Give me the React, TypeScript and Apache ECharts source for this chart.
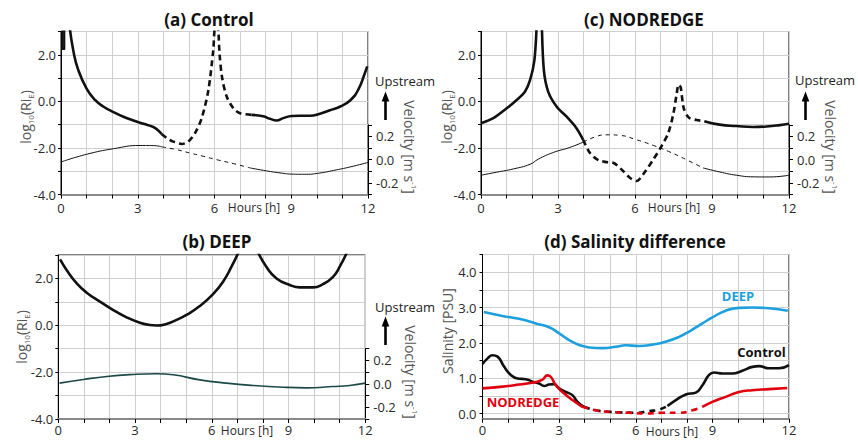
import { useEffect, useRef } from "react";
import * as echarts from "echarts";

type P = [number, number][];

// tick labels
const hourLabels = [0, 3, 6, 9, 12];
const riLabels = [-4, -2, 0, 2];
const velLabels = [-0.2, 0, 0.2];
const salTicks = [0, 0.5, 1, 1.5, 2, 2.5, 3, 3.5, 4, 4.5];
const salLabels = [0, 1, 2, 3, 4];

// (a) Control — log10(Ri_E)
const aRiSpike: P = [[0.05, 3.3], [0.05, 2.25], [0.13, 2.25], [0.13, 3.3]];
const aRiSolid1: P = [[0.33, 3.3], [0.48, 2.18], [0.68, 1.33], [1.0, 0.55], [1.33, 0.06], [1.65, -0.22], [2.05, -0.46], [2.44, -0.66], [2.83, -0.82], [3.22, -0.96], [3.61, -1.1], [3.8, -1.25], [3.93, -1.4]];
const aRiDash: P = [[3.93, -1.4], [4.13, -1.57], [4.39, -1.73], [4.72, -1.83], [4.98, -1.72], [5.24, -1.36], [5.5, -0.72], [5.76, 0.48], [5.95, 2.18], [6.03, 3.2], [6.12, 3.2], [6.2, 2.0], [6.3, 1.0], [6.48, 0.2], [6.74, -0.3], [7.0, -0.51], [7.45, -0.58]];
const aRiSolid2: P = [[7.45, -0.58], [7.9, -0.64], [8.17, -0.75], [8.43, -0.82], [8.69, -0.72], [9.02, -0.63], [9.34, -0.62], [9.73, -0.62], [10.12, -0.53], [10.51, -0.38], [10.9, -0.23], [11.3, 0.04], [11.62, 0.5], [11.88, 1.22], [11.97, 1.5]];
// (a) Control — velocity
const aVelSolid1: P = [[0, -0.02], [1, 0.046], [2.05, 0.094], [3.09, 0.122], [3.61, 0.121], [3.95, 0.11]];
const aVelDash: P = [[3.95, 0.11], [4.52, 0.086], [5.04, 0.057], [5.56, 0.029], [6.08, 0.0], [6.74, -0.034], [7.39, -0.071]];
const aVelSolid2: P = [[7.39, -0.071], [8.04, -0.097], [8.56, -0.114], [9.08, -0.125], [9.6, -0.126], [10.12, -0.115], [10.65, -0.093], [11.3, -0.063], [12, -0.024]];

// (c) NODREDGE — log10(Ri_E)
const cRiSolid1: P = [[0, -0.94], [0.48, -0.72], [1.0, -0.3], [1.39, 0.06], [1.71, 0.41], [1.91, 0.91], [2.08, 1.76], [2.17, 3.3]];
const cRiSolid1b: P = [[2.37, 3.3], [2.45, 1.33], [2.62, 0.41], [2.95, -0.23], [3.33, -0.65], [3.72, -1.15], [3.98, -1.65]];
const cRiDash: P = [[3.98, -1.65], [4.24, -2.21], [4.57, -2.52], [4.89, -2.61], [5.15, -2.64], [5.47, -2.92], [5.8, -3.28], [6.06, -3.42], [6.32, -3.13], [6.71, -2.5], [7.03, -1.93], [7.3, -1.35], [7.5, -0.5], [7.62, 0.3], [7.7, 0.72], [7.78, 0.6], [7.9, -0.3], [8.1, -0.7], [8.4, -0.8], [8.7, -0.85]];
const cRiSolid2: P = [[8.7, -0.85], [9.3, -1.0], [9.95, -1.06], [10.6, -1.1], [11.12, -1.08], [11.64, -1.02], [12, -0.96]];
// (c) NODREDGE — velocity
const cVelSolid1: P = [[0, -0.134], [0.61, -0.108], [1.26, -0.08], [1.91, -0.04], [2.23, 0.004], [2.82, 0.062], [3.46, 0.105], [3.98, 0.151]];
const cVelDash: P = [[3.98, 0.151], [4.5, 0.2], [4.89, 0.214], [5.41, 0.209], [6.06, 0.171], [6.71, 0.123], [7.36, 0.066], [8.0, 0.0], [8.65, -0.071]];
const cVelSolid2: P = [[8.65, -0.071], [9.3, -0.106], [9.95, -0.134], [10.6, -0.148], [11.25, -0.149], [12, -0.134]];

// (b) DEEP
const bRi1: P = [[0.07, 2.81], [0.33, 2.35], [0.72, 1.79], [1.11, 1.39], [1.63, 1.01], [2.15, 0.65], [2.67, 0.34], [3.19, 0.11], [3.58, 0.01], [3.84, -0.01], [4.23, 0.06], [4.62, 0.23], [5.01, 0.44], [5.53, 0.82], [6.05, 1.33], [6.44, 1.86], [6.77, 2.5], [7.08, 3.2]];
const bRi2: P = [[7.77, 3.2], [8.13, 2.5], [8.53, 2.0], [9.05, 1.72], [9.44, 1.62], [9.96, 1.62], [10.35, 1.76], [10.74, 2.07], [11.0, 2.5], [11.32, 3.2]];
const bVel: P = [[0.05, 0.006], [0.98, 0.037], [1.89, 0.063], [2.93, 0.08], [3.84, 0.086], [4.49, 0.077], [5.53, 0.034], [6.57, 0.006], [7.61, -0.014], [8.79, -0.029], [9.7, -0.034], [10.74, -0.023], [11.39, -0.014], [12, 0.006]];

// (d) Salinity difference
const dDeep: P = [[0.05, 2.87], [0.78, 2.76], [1.43, 2.68], [2.09, 2.55], [2.61, 2.44], [3.0, 2.27], [3.39, 2.08], [3.78, 1.94], [4.17, 1.87], [4.7, 1.85], [5.22, 1.89], [5.61, 1.93], [6.13, 1.91], [6.65, 1.95], [7.17, 2.03], [7.7, 2.17], [8.09, 2.32], [8.61, 2.55], [9.0, 2.72], [9.52, 2.91], [10.04, 2.99], [10.57, 3.0], [11.22, 2.98], [11.95, 2.91]];
const dControl1: P = [[0, 1.4], [0.2, 1.56], [0.39, 1.65], [0.59, 1.61], [0.85, 1.32], [1.11, 1.09], [1.37, 0.99], [1.7, 0.97], [1.96, 0.9], [2.22, 0.85], [2.41, 0.78], [2.61, 0.82], [2.8, 0.83], [3.0, 0.71], [3.26, 0.61], [3.52, 0.52], [3.72, 0.33], [3.98, 0.19]];
const dControlDash: P = [[3.98, 0.19], [4.43, 0.09], [4.96, 0.05], [5.48, 0.03], [6.0, 0.02], [6.52, 0.07], [6.91, 0.11], [7.24, 0.21]];
const dControl2: P = [[7.24, 0.21], [7.57, 0.38], [7.96, 0.54], [8.35, 0.59], [8.61, 0.8], [8.87, 1.09], [9.07, 1.16], [9.39, 1.13], [9.78, 1.13], [10.17, 1.21], [10.57, 1.32], [10.83, 1.34], [11.22, 1.28], [11.61, 1.28], [12, 1.37]];
const dNod1: P = [[0, 0.71], [0.78, 0.76], [1.43, 0.82], [2.09, 0.89], [2.35, 0.96], [2.54, 1.08], [2.67, 1.04], [2.87, 0.8], [3.13, 0.61], [3.52, 0.38], [3.91, 0.19]];
const dNodDash: P = [[3.91, 0.19], [4.43, 0.09], [5.09, 0.04], [5.74, 0.02], [6.39, 0.0], [7.04, 0.02], [7.7, 0.02], [8.22, 0.09], [8.61, 0.19]];
const dNod2: P = [[8.61, 0.19], [9.0, 0.33], [9.52, 0.47], [10.04, 0.61], [10.57, 0.66], [11.22, 0.69], [11.93, 0.72]];

const FONT = "'Open Sans', 'DejaVu Sans', sans-serif";
const GRID_LINE = "#cfcfcf";
const LABEL = "#2a2a2a";
const TITLE_GRAY = "#555";
const BLACK = "#111";
const BLUE = "#1ea0dd";
const RED = "#e2000f";
const TEAL = "#1d4848";

export default function App() {
  const ref = useRef<HTMLDivElement>(null);

  useEffect(() => {
    const chart = echarts.init(ref.current!, null, { renderer: "svg" });

    const mainGrids = [
      { left: 61, top: 31.5, width: 307, height: 163 },
      { left: 61, top: 124.8, width: 307, height: 69.7 },
      { left: 481, top: 31.5, width: 308, height: 163 },
      { left: 481, top: 124.8, width: 308, height: 69.7 },
      { left: 58.3, top: 255, width: 307, height: 164 },
      { left: 58.3, top: 348.7, width: 307, height: 70.3 },
      { left: 482.5, top: 254.5, width: 306.5, height: 164.3 },
    ];
    const isMain = [true, false, true, false, true, false, true];
    const grid = mainGrids.map((g, i) => ({
      ...g,
      show: isMain[i],
      borderColor: "#000",
      borderWidth: 1,
      backgroundColor: "transparent",
      containLabel: false,
    }));

    const labelMargin = [7, 0, 7, 0, 4, 0, 5];
    const xAxis = mainGrids.map((_, i) =>
      isMain[i]
        ? {
            type: "value",
            gridIndex: i,
            min: 0,
            max: 12,
            interval: 1,
            axisLine: { show: true, onZero: false, lineStyle: { color: "#8a8a8a", width: 2 } },
            axisTick: { show: true, length: 4, lineStyle: { color: "#000", width: 1 } },
            axisLabel: {
              margin: labelMargin[i],
              fontSize: 13,
              fontFamily: FONT,
              color: LABEL,
              showMinLabel: true,
              showMaxLabel: true,
              formatter: (v: number) => (hourLabels.includes(v) ? String(v) : ""),
            },
            splitLine: { show: true, lineStyle: { color: GRID_LINE, width: 1 } },
          }
        : { type: "value", gridIndex: i, min: 0, max: 12, show: false }
    );

    const riAxis = (i: number) => ({
      type: "value",
      gridIndex: i,
      min: -4,
      max: 3,
      interval: 1,
      position: "left",
      axisLine: { show: true, onZero: false, lineStyle: { color: "#000", width: 1 } },
      axisTick: { show: true, length: 3, lineStyle: { color: "#000" } },
      axisLabel: {
        margin: 5,
        fontSize: 13,
        fontFamily: FONT,
        color: LABEL,
        formatter: (v: number) => (riLabels.includes(v) ? v.toFixed(1) : ""),
      },
      splitLine: { show: true, lineStyle: { color: GRID_LINE, width: 1 } },
    });
    const velAxis = (i: number) => ({
      type: "value",
      gridIndex: i,
      min: -0.3,
      max: 0.3,
      interval: 0.1,
      position: "right",
      axisLine: { show: true, onZero: false, lineStyle: { color: "#000", width: 1 } },
      axisTick: { show: true, length: 4, lineStyle: { color: "#000" } },
      axisLabel: {
        margin: 8,
        fontSize: 13,
        fontFamily: FONT,
        color: LABEL,
        formatter: (v: number) => {
          const r = Math.round(v * 10) / 10;
          return velLabels.includes(r) ? r.toFixed(1) : "";
        },
      },
      splitLine: { show: false },
    });
    const salAxis = {
      type: "value",
      gridIndex: 6,
      min: -0.15,
      max: 4.5,
      position: "left",
      axisLine: { show: true, onZero: false, lineStyle: { color: "#000", width: 1 } },
      axisTick: { show: true, length: 3, customValues: salTicks, lineStyle: { color: "#000" } },
      axisLabel: {
        margin: 6,
        fontSize: 13,
        fontFamily: FONT,
        color: LABEL,
        customValues: salLabels,
        formatter: (v: number) => v.toFixed(1),
      },
      splitLine: { show: true, lineStyle: { color: GRID_LINE, width: 1 } },
    };
    const yAxis = [riAxis(0), velAxis(1), riAxis(2), velAxis(3), riAxis(4), velAxis(5), salAxis];

    const line = (
      data: P,
      idx: number,
      color: string,
      width: number,
      dash: number[] | "solid" = "solid",
      smooth: number | boolean = 0.5,
      z = 2
    ) => ({
      type: "line",
      xAxisIndex: idx,
      yAxisIndex: idx,
      data,
      smooth,
      symbol: "none",
      silent: true,
      z,
      lineStyle: { color, width, type: dash, cap: "butt", join: "round" },
    });

    const RI_W = 2.6;
    const RI_DASH = [6, 4];
    const VEL_DASH = [4, 4];
    const SAL_W = 2.6;
    const SAL_DASH = [6, 5];

    const series = [
      line(aRiSpike, 0, BLACK, 2, "solid", false),
      line(aRiSolid1, 0, BLACK, RI_W),
      line(aRiDash, 0, BLACK, RI_W, RI_DASH, 0.3),
      line(aRiSolid2, 0, BLACK, RI_W),
      line(aVelSolid1, 1, BLACK, 1),
      line(aVelDash, 1, BLACK, 1, VEL_DASH),
      line(aVelSolid2, 1, BLACK, 1),

      line(cRiSolid1, 2, BLACK, RI_W, "solid", 0.3),
      line(cRiSolid1b, 2, BLACK, RI_W, "solid", 0.3),
      line(cRiDash, 2, BLACK, RI_W, RI_DASH, 0.3),
      line(cRiSolid2, 2, BLACK, RI_W),
      line(cVelSolid1, 3, BLACK, 1),
      line(cVelDash, 3, BLACK, 1, VEL_DASH),
      line(cVelSolid2, 3, BLACK, 1),

      line(bRi1, 4, BLACK, 2.6),
      line(bRi2, 4, BLACK, 2.6),
      line(bVel, 5, TEAL, 1.6),

      line(dDeep, 6, BLUE, SAL_W),
      line(dControl1, 6, BLACK, SAL_W),
      line(dControlDash, 6, BLACK, SAL_W, SAL_DASH),
      line(dControl2, 6, BLACK, SAL_W),
      line(dNod1, 6, RED, SAL_W, "solid", 0.5, 3),
      line(dNodDash, 6, RED, SAL_W, SAL_DASH, 0.5, 3),
      line(dNod2, 6, RED, SAL_W, "solid", 0.5, 3),
    ];

    const txt = (
      text: string,
      x: number,
      y: number,
      opts: { size?: number; weight?: string; color?: string; rotation?: number; rich?: any; align?: string } = {}
    ) => ({
      type: "text",
      x,
      y,
      rotation: opts.rotation ?? 0,
      silent: true,
      z: 100,
      style: {
        text,
        fill: opts.color ?? LABEL,
        fontSize: opts.size ?? 13,
        fontFamily: FONT,
        fontWeight: opts.weight ?? "normal",
        align: opts.align ?? "center",
        verticalAlign: "middle",
        textAlign: opts.align ?? "center",
        textVerticalAlign: "middle",
        rich: opts.rich,
      },
    });

    const subRich = {
      n: { fontSize: 14, fontFamily: FONT, fill: TITLE_GRAY, verticalAlign: "middle", lineHeight: 18 },
      s: { fontSize: 8, fontFamily: FONT, fill: TITLE_GRAY, verticalAlign: "bottom", lineHeight: 18 },
    };
    const supRich = {
      n: { fontSize: 14, fontFamily: FONT, fill: TITLE_GRAY, verticalAlign: "middle", lineHeight: 18 },
      s: { fontSize: 8, fontFamily: FONT, fill: TITLE_GRAY, verticalAlign: "top", lineHeight: 18 },
    };
    const logText = "{n|log}{s|10}{n|(Ri}{s|E}{n|)}";
    const velText = "{n|Velocity [m s}{s|-1}{n|]}";

    const arrow = (x: number, tip: number, bottom: number) => [
      {
        type: "line",
        silent: true,
        z: 100,
        shape: { x1: x, y1: bottom, x2: x, y2: tip + 8 },
        style: { stroke: "#000", lineWidth: 2.6 },
      },
      {
        type: "polygon",
        silent: true,
        z: 100,
        shape: { points: [[x - 3.8, tip + 10], [x + 3.8, tip + 10], [x, tip]] },
        style: { fill: "#000" },
      },
    ];

    const graphic = [
      // titles
      txt("(a) Control", 209, 19, { size: 17, weight: "bold", color: "#111" }),
      txt("(c) NODREDGE", 644, 19, { size: 17, weight: "bold", color: "#111" }),
      txt("(b) DEEP", 217, 241, { size: 17, weight: "bold", color: "#111" }),
      txt("(d) Salinity difference", 635, 241, { size: 17, weight: "bold", color: "#111" }),
      // hours labels
      txt("Hours [h]", 254, 207.5, { size: 12 }),
      txt("Hours [h]", 674, 207.5, { size: 12 }),
      txt("Hours [h]", 247, 430.5, { size: 12 }),
      txt("Hours [h]", 672, 431.5, { size: 12 }),
      // y titles
      txt(logText, 25, 117, { rotation: Math.PI / 2, rich: subRich, color: TITLE_GRAY }),
      txt(logText, 446, 117, { rotation: Math.PI / 2, rich: subRich, color: TITLE_GRAY }),
      txt(logText, 21, 337, { rotation: Math.PI / 2, rich: subRich, color: TITLE_GRAY }),
      txt("Salinity [PSU]", 447, 331, { rotation: Math.PI / 2, size: 14, color: TITLE_GRAY }),
      txt(velText, 409, 147, { rotation: -Math.PI / 2, rich: supRich, color: TITLE_GRAY }),
      txt(velText, 830, 147, { rotation: -Math.PI / 2, rich: supRich, color: TITLE_GRAY }),
      txt(velText, 410, 372, { rotation: -Math.PI / 2, rich: supRich, color: TITLE_GRAY }),
      // upstream
      txt("Upstream", 375, 81, { align: "left", color: "#222" }),
      txt("Upstream", 795, 80, { align: "left", color: "#222" }),
      txt("Upstream", 375, 306.5, { align: "left", color: "#222" }),
      ...arrow(385.5, 91.5, 120),
      ...arrow(805.5, 91.5, 120),
      ...arrow(385.5, 316.5, 345),
      // series labels in (d)
      txt("DEEP", 738, 296, { weight: "bold", color: BLUE }),
      txt("Control", 761.5, 352, { weight: "bold", color: "#111" }),
      txt("NODREDGE", 523, 402, { weight: "bold", color: RED }),
    ];

    chart.setOption({
      animation: false,
      backgroundColor: "#fff",
      grid,
      xAxis,
      yAxis,
      series,
      graphic,
    } as any);

    return () => chart.dispose();
  }, []);

  return (
    <div
      ref={ref}
      style={{ position: "fixed", left: 0, top: 0, width: 858, height: 440 }}
    />
  );
}
